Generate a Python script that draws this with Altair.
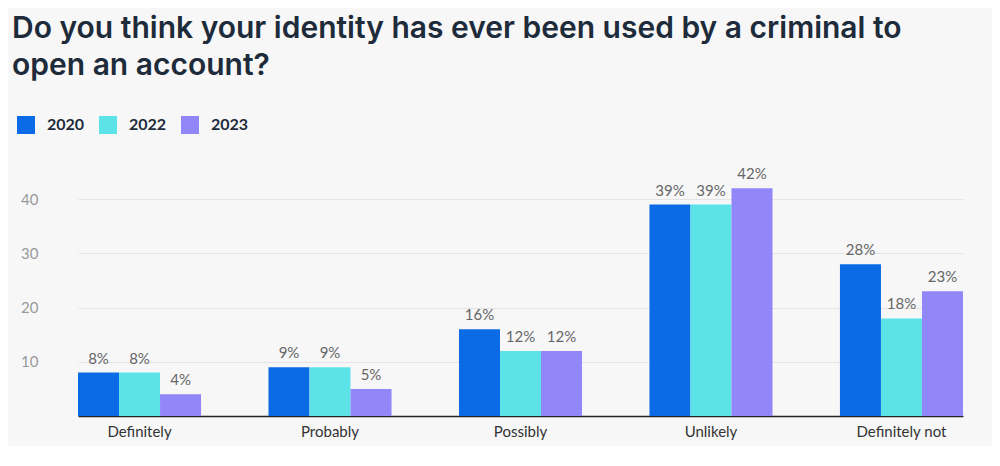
import altair as alt
import pandas as pd

categories = ["Definitely", "Probably", "Possibly", "Unlikely", "Definitely not"]
years = ["2020", "2022", "2023"]
v2020 = [8, 9, 16, 39, 28]
v2022 = [8, 9, 12, 39, 18]
v2023 = [4, 5, 12, 42, 23]
colors = ["#0b6be6", "#5ce3e8", "#9287f9"]
y_ticks = [10, 20, 30, 40]

rows = []
for yr, vals in zip(years, [v2020, v2022, v2023]):
    for c, v in zip(categories, vals):
        rows.append({"category": c, "year": yr, "value": v, "label": f"{v}%"})
df = pd.DataFrame(rows)

W, H = 928, 244

x = alt.X("category:N", sort=categories, title=None,
          scale=alt.Scale(range=[34, 919], paddingInner=0.354, paddingOuter=0),
          axis=alt.Axis(labelAngle=0, labelFont="Lato", labelFontSize=15, labelColor="#333333",
                        labelPadding=8, ticks=False, domain=True, domainColor="#222222",
                        domainWidth=1.5, grid=False))
xo = alt.XOffset("year:N", sort=years, scale=alt.Scale(paddingInner=0, paddingOuter=0))
y = alt.Y("value:Q", title=None,
          scale=alt.Scale(domain=[0, 45], nice=False),
          axis=alt.Axis(values=y_ticks, labelFont="Lato", labelFontSize=15, labelColor="#999999",
                        labelPadding=6, ticks=False, domain=False, grid=True,
                        gridColor="#e4e4e6", gridWidth=1))

bars = alt.Chart(df).mark_bar().encode(
    x=x, xOffset=xo, y=y,
    color=alt.Color("year:N", sort=years,
                    scale=alt.Scale(domain=years, range=colors),
                    legend=alt.Legend(title=None, orient="none", direction="horizontal",
                                      legendX=-27, legendY=-56, symbolType="square",
                                      symbolSize=324, symbolStrokeWidth=0, symbolOpacity=1,
                                      labelFont="Lato", labelFontSize=16, labelFontWeight="bold",
                                      labelColor="#1d2b3a", labelOffset=12, columnPadding=14)),
)

labels = alt.Chart(df).mark_text(dy=-14, font="Lato", fontSize=15, color="#666666").encode(
    x=x, xOffset=xo, y=y, text="label:N"
)

chart = alt.layer(bars, labels).properties(
    width=W, height=H,
    title=alt.TitleParams(
        text=["Do you think your identity has ever been used by a criminal to", "open an account?"],
        anchor="start", frame="group", orient="top", dx=-32, offset=35,
        font="Inter", fontSize=30, fontWeight=600, color="#1d2b3a", lineHeight=37),
    autosize=alt.AutoSizeParams(type="none"),
    padding={"left": 36, "top": 164, "right": 20, "bottom": 30},
    background="#f7f7f8",
).configure_view(stroke=None)

chart.save("out.html", embed_options={"renderer": "svg", "actions": False})
